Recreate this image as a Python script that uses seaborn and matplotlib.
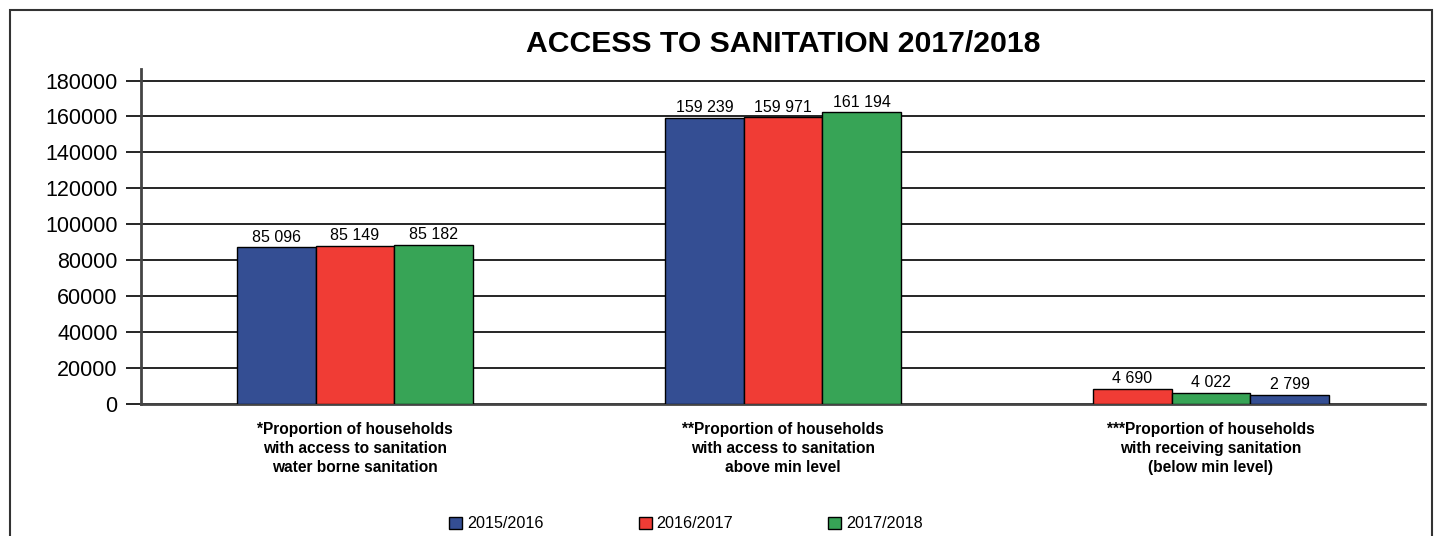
import matplotlib
matplotlib.use("Agg")
import matplotlib.pyplot as plt
from matplotlib.patches import Patch, Rectangle
import seaborn as sns
import pandas as pd

# ---- data ----
categories = [
    "*Proportion of households\nwith access to sanitation\nwater borne sanitation",
    "**Proportion of households\nwith access to sanitation\nabove min level",
    "***Proportion of households\nwith receiving sanitation\n(below min level)",
]
series = ["2015/2016", "2016/2017", "2017/2018"]
# bar heights as drawn (left-to-right inside each group)
bar_values = [
    [87200, 87800, 88700],
    [159400, 159500, 162200],
    [8200, 6300, 5000],
]
# series that each drawn bar belongs to (left-to-right inside each group)
bar_series = [
    ["2015/2016", "2016/2017", "2017/2018"],
    ["2015/2016", "2016/2017", "2017/2018"],
    ["2016/2017", "2017/2018", "2015/2016"],
]
bar_labels = [
    ["85 096", "85 149", "85 182"],
    ["159 239", "159 971", "161 194"],
    ["4 690", "4 022", "2 799"],
]
yticks = [0, 20000, 40000, 60000, 80000, 100000, 120000, 140000, 160000, 180000]
title = "ACCESS TO SANITATION 2017/2018"

palette = {"2015/2016": "#344e93", "2016/2017": "#f03c35", "2017/2018": "#37a456"}

rows = []
for ci, cat in enumerate(categories):
    for si in range(3):
        rows.append({"category": cat, "slot": f"s{si}", "value": bar_values[ci][si]})
df = pd.DataFrame(rows)

sns.set_style("white")
plt.rcParams["font.family"] = ["Liberation Sans", "DejaVu Sans"]
plt.rcParams["text.color"] = "black"
plt.rcParams["xtick.color"] = "black"
plt.rcParams["ytick.color"] = "black"
plt.rcParams["xtick.labelcolor"] = "black"
plt.rcParams["ytick.labelcolor"] = "black"

W, H = 1440, 536
fig = plt.figure(figsize=(W / 100, H / 100), dpi=100)
ax = fig.add_axes([141 / W, 1 - 404 / H, (1425 - 141) / W, (404 - 69) / H])

sns.barplot(data=df, x="category", y="value", hue="slot", order=categories,
            hue_order=["s0", "s1", "s2"], width=0.55, edgecolor="black",
            linewidth=1.0, legend=False, ax=ax, saturation=1)

for si, cont in enumerate(ax.containers):
    for ci, bar in enumerate(cont):
        bar.set_facecolor(palette[bar_series[ci][si]])
        bar.set_zorder(3)
    ax.bar_label(cont, labels=[bar_labels[ci][si] for ci in range(len(categories))],
                 padding=2, fontsize=11.5, color="black", zorder=4)

ax.set_xlim(-0.5, 2.5)
ax.set_ylim(0, 186400)
ax.set_yticks(yticks)
ax.set_yticklabels([str(t) for t in yticks], fontsize=15.5, color="black")
ax.set_xticks(range(len(categories)))
ax.set_xticklabels(categories, fontsize=11.2, fontweight="bold", linespacing=1.32,
                   color="black")
ax.set_xticks([0.5, 1.5, 2.5], minor=True)
ax.tick_params(axis="x", which="major", length=0, pad=13)
ax.tick_params(axis="x", which="minor", direction="in", length=10, width=1.5, color="#444")
ax.tick_params(axis="y", which="major", length=11, width=1.2, color="black", pad=5.8, left=True)
ax.set_xlabel("")
ax.set_ylabel("")

ax.set_axisbelow(True)
ax.yaxis.grid(True, color="black", linewidth=1.2)
ax.xaxis.grid(False)
for s in ["top", "right"]:
    ax.spines[s].set_visible(False)
for s in ["left", "bottom"]:
    ax.spines[s].set_visible(True)
    ax.spines[s].set_color("#444")
    ax.spines[s].set_linewidth(2)

fig.text(783 / W, 1 - 44 / H, title, ha="center", va="center",
         fontsize=21.7, fontweight="bold", color="black")

handles = [Patch(facecolor=palette[s], edgecolor="black", linewidth=1) for s in series]
fig.legend(handles, series, loc="center", bbox_to_anchor=(686 / W, 1 - 524 / H),
           ncol=3, frameon=False, fontsize=11.6, handlelength=0.8, handleheight=0.8,
           handletextpad=0.3, columnspacing=5.9, labelcolor="black")

fig.add_artist(Rectangle((10 / W, -0.1), (1432 - 10) / W, 1.1 - 10 / H,
                         transform=fig.transFigure, fill=False,
                         edgecolor="#333", linewidth=1.5))

fig.savefig("out.png", dpi=100, facecolor="white")
